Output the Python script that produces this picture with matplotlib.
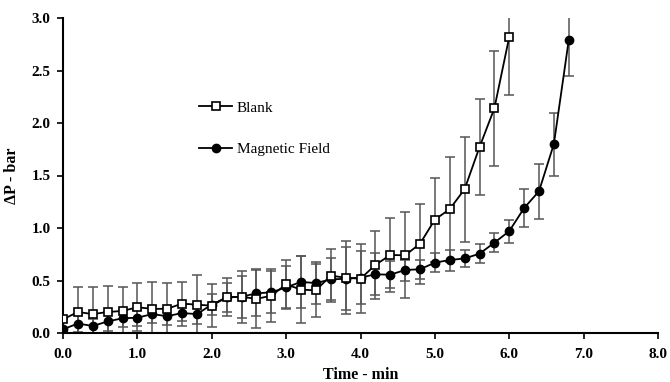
import matplotlib
matplotlib.use("Agg")
import matplotlib.pyplot as plt
import numpy as np

time_blank = [0.0, 0.2, 0.4, 0.6, 0.8, 1.0, 1.2, 1.4, 1.6, 1.8, 2.0, 2.2, 2.4, 2.6, 2.8, 3.0,
              3.2, 3.4, 3.6, 3.8, 4.0, 4.2, 4.4, 4.6, 4.8, 5.0, 5.2, 5.4, 5.6, 5.8, 6.0]
blank = [0.13, 0.20, 0.18, 0.20, 0.21, 0.245, 0.23, 0.23, 0.28, 0.27, 0.26, 0.34, 0.345, 0.325, 0.355, 0.463,
         0.413, 0.406, 0.546, 0.527, 0.517, 0.648, 0.743, 0.74, 0.85, 1.08, 1.18, 1.37, 1.77, 2.14, 2.82]
blank_err = [0.0, 0.235, 0.255, 0.25, 0.23, 0.23, 0.255, 0.245, 0.21, 0.285, 0.205, 0.18, 0.25, 0.28, 0.25, 0.235,
             0.32, 0.25, 0.25, 0.35, 0.33, 0.32, 0.355, 0.41, 0.38, 0.40, 0.50, 0.50, 0.46, 0.55, 0.55]

time_mag = [0.0, 0.2, 0.4, 0.6, 0.8, 1.0, 1.2, 1.4, 1.6, 1.8, 2.0, 2.2, 2.4, 2.6, 2.8, 3.0,
            3.2, 3.4, 3.6, 3.8, 4.0, 4.2, 4.4, 4.6, 4.8, 5.0, 5.2, 5.4, 5.6, 5.8, 6.0, 6.2, 6.4, 6.6, 6.8]
mag = [0.035, 0.09, 0.067, 0.11, 0.14, 0.146, 0.18, 0.16, 0.19, 0.18, 0.27, 0.34, 0.345, 0.378, 0.387, 0.435,
       0.486, 0.476, 0.51, 0.517, 0.527, 0.559, 0.555, 0.60, 0.607, 0.67, 0.695, 0.71, 0.755, 0.86, 0.97, 1.19, 1.35, 1.80, 2.79]
mag_err = [0.0, 0.08, 0.07, 0.09, 0.08, 0.075, 0.08, 0.08, 0.075, 0.09, 0.10, 0.14, 0.20, 0.22, 0.20, 0.20,
           0.25, 0.20, 0.20, 0.30, 0.25, 0.20, 0.13, 0.10, 0.09, 0.09, 0.10, 0.085, 0.09, 0.09, 0.11, 0.18, 0.26, 0.30, 0.34]

x_ticks = [0, 1, 2, 3, 4, 5, 6, 7, 8]
y_ticks = [0.0, 0.5, 1.0, 1.5, 2.0, 2.5, 3.0]

plt.rcParams['font.family'] = ['Liberation Serif', 'DejaVu Serif']

fig = plt.figure(figsize=(6.7, 3.82), dpi=100)
ax = fig.add_axes([63/670, 1-333/382, (658-63)/670, (333-18)/382])

ecol = '#555555'
ax.errorbar(time_blank, blank, yerr=blank_err, fmt='none', ecolor=ecol, elinewidth=1.1,
            capsize=3.5, capthick=1.1, zorder=2)
ax.errorbar(time_mag, mag, yerr=mag_err, fmt='none', ecolor=ecol, elinewidth=1.1,
            capsize=3.5, capthick=1.1, zorder=2)
ax.plot(time_blank, blank, '-s', color='black', mfc='white', mec='black', mew=1.2,
        ms=5.2, lw=1.3, label='Blank', zorder=4)
ax.plot(time_mag, mag, '-o', color='black', mfc='black', mec='black',
        ms=6, lw=1.3, label='Magnetic Field', zorder=3)

ax.set_xlim(0, 8)
ax.set_ylim(0, 3.0)
ax.set_xticks(x_ticks)
ax.set_xticklabels([f"{v:.1f}" for v in x_ticks], fontweight='bold', fontsize=11)
ax.set_yticks(y_ticks)
ax.set_yticklabels([f"{v:.1f}" for v in y_ticks], fontweight='bold', fontsize=11)
ax.spines['top'].set_visible(False)
ax.spines['right'].set_visible(False)
ax.spines['left'].set_linewidth(1.5)
ax.spines['bottom'].set_linewidth(1.5)
ax.tick_params(direction='out', length=4, width=1.2)
ax.tick_params(axis='x', pad=7)
ax.tick_params(axis='y', pad=5)
ax.set_xlabel('Time - min', fontweight='bold', fontsize=11.5, labelpad=4)
ax.set_ylabel('ΔP - bar', fontweight='bold', fontsize=11.5, labelpad=8)

leg = ax.legend(loc='upper left', bbox_to_anchor=(0.205, 0.78), frameon=False,
                fontsize=11, labelspacing=1.8, handlelength=2.2, handletextpad=0.3)

fig.savefig('out.png', dpi=100)
